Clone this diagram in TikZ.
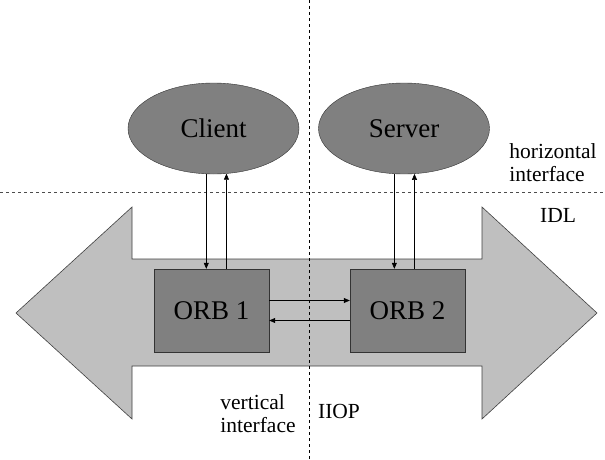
\documentclass[tikz,border=0pt]{standalone}
\usepackage{fontspec}
\setmainfont{Liberation Serif}
\usetikzlibrary{arrows.meta, shapes.geometric}

\begin{document}
\begin{tikzpicture}[x=1pt, y=-1pt,
  orb/.style={draw=black!80, fill=black!50, minimum width=115pt, minimum height=83pt, inner sep=0pt, font=\fontsize{27}{30}\selectfont},
  party/.style={ellipse, draw=black!80, fill=black!50, minimum width=171pt, minimum height=91pt, inner sep=0pt, font=\fontsize{27}{30}\selectfont},
  link/.style={-{Triangle[length=6pt, width=5pt]}, line width=0.6pt},
  sep/.style={dash pattern=on 3pt off 3pt, line width=0.7pt},
  note/.style={align=left, font=\fontsize{21.5}{23}\selectfont}]
  \useasboundingbox (0,0) rectangle (605,460);

  % Double arrow
  \draw[fill=black!25, draw=black!75, line width=0.6pt] (16,313) -- (132,207) -- (132,259) -- (482,259) -- (482,207)
    -- (597,313) -- (482,419) -- (482,366) -- (132,366) -- (132,419) -- cycle;

  % Separators
  \draw[sep] (309,0) -- (309,460);
  \draw[sep, black!70] (0,192) -- (605,192);

  % Objects and ORBs
  \node[party] (client) at (213.5,128.5) {Client};
  \node[party] (server) at (404,128.5) {Server};
  \node[orb] (orb1) at (211.5,310.5) {ORB 1};
  \node[orb] (orb2) at (407.5,310.5) {ORB 2};

  % Calls
  \draw[link] (client.-99) -- (client.-99 |- orb1.north);
  \draw[link] (client.-74 |- orb1.north) -- (client.-74);
  \draw[link] (server.-102.5) -- (server.-102.5 |- orb2.north);
  \draw[link] (server.-77.5 |- orb2.north) -- (server.-77.5);
  \draw[link] ([yshift=10pt]orb1.east) -- ([yshift=10pt]orb2.west);
  \draw[link] ([yshift=-10pt]orb2.west) -- ([yshift=-10pt]orb1.east);

  % Labels
  \node[note] (horiz) at (553,163) {horizontal\\interface};
  \node[note] (idl) at (558,215) {IDL};
  \node[note] (vert) at (258,414) {vertical\\interface};
  \node[note] (iiop) at (339,411) {IIOP};
\end{tikzpicture}
\end{document}
